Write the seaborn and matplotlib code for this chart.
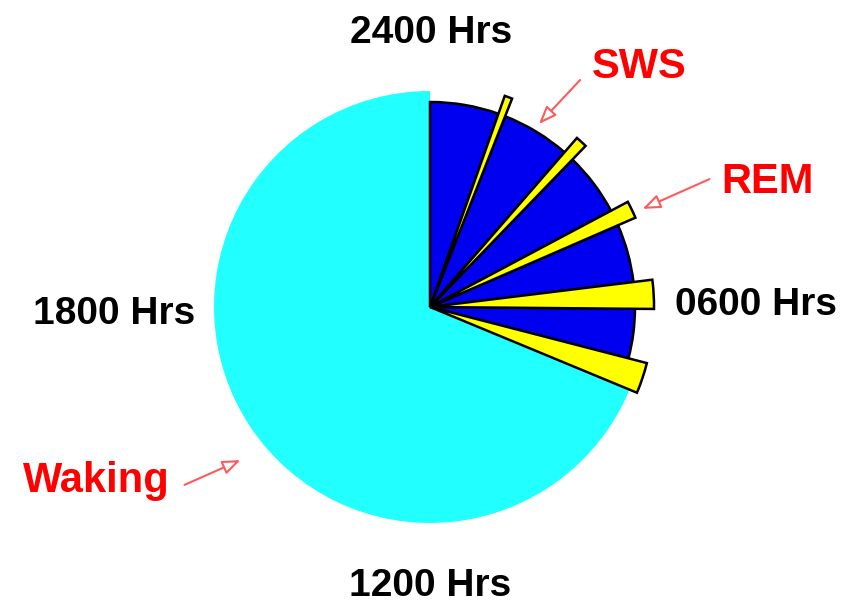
import matplotlib
matplotlib.use("Agg")
import matplotlib.pyplot as plt
import seaborn as sns

# Sleep architecture over a 24-hour clock face, in minutes from midnight (clockwise)
stages = ["SWS", "REM", "SWS", "REM", "SWS", "REM", "SWS", "REM", "SWS", "REM", "Waking"]
minutes = [78, 8, 78, 12, 72, 18, 66, 30, 56, 32, 990]
hour_labels = ["2400 Hrs", "0600 Hrs", "1200 Hrs", "1800 Hrs"]
stage_labels = ["SWS", "REM", "Waking"]

sns.set_theme(style="white")
plt.rcParams["font.family"] = ["Liberation Sans", "DejaVu Sans"]

W, H = 846, 605
fig = plt.figure(figsize=(W / 100, H / 100), dpi=100)
ax = fig.add_axes([0, 0, 1, 1])

def py(y):
    # image-style y (from top) to data y (from bottom)
    return H - y

center = (430, py(307))
colors = {"Waking": "#22FFFF", "SWS": "#0000F0", "REM": "#FFFF00"}
radius = {"Waking": 216, "SWS": 205, "REM": 224}

# One pie layer per stage; wedges of other stages are hidden
for layer in ["Waking", "SWS", "REM"]:
    edge = "none" if layer == "Waking" else "black"
    wedges, _ = ax.pie(
        minutes,
        colors=[colors[s] for s in stages],
        startangle=90,
        counterclock=False,
        radius=radius[layer],
        center=center,
        wedgeprops=dict(edgecolor=edge, linewidth=1.8),
    )
    for w, s in zip(wedges, stages):
        if s != layer:
            w.set_visible(False)

ax.set_xlim(0, W)
ax.set_ylim(0, H)
ax.set_aspect("equal")
ax.axis("off")

# Clock-face hour labels (baseline anchored)
hour_pos = [(431, 43), (756, 315), (430, 596), (114, 324)]
for lab, (x, y) in zip(hour_labels, hour_pos):
    ax.text(x, py(y), lab, ha="center", va="baseline", fontsize=28,
            fontweight="bold", color="black")

red = "#FF0000"
arrow_red = "#FF5A5A"
label_pos = [(639, 78, "center"), (767, 193, "center"), (23, 492, "left")]
arrow_tail = [(582, 78), (712, 178), (182, 486)]
arrow_head = [(537, 126), (640, 210), (243, 459)]
for lab, (x, y, ha), (tx, ty), (hx, hy) in zip(stage_labels, label_pos, arrow_tail, arrow_head):
    ax.text(x, py(y), lab, ha=ha, va="baseline", fontsize=30,
            fontweight="bold", color=red)
    ax.annotate("", xy=(hx, py(hy)), xytext=(tx, py(ty)),
                arrowprops=dict(arrowstyle="-|>,head_length=0.9,head_width=0.35",
                                color=arrow_red, fc="white", lw=1.5))

fig.savefig("out.png", dpi=100, facecolor="white")
